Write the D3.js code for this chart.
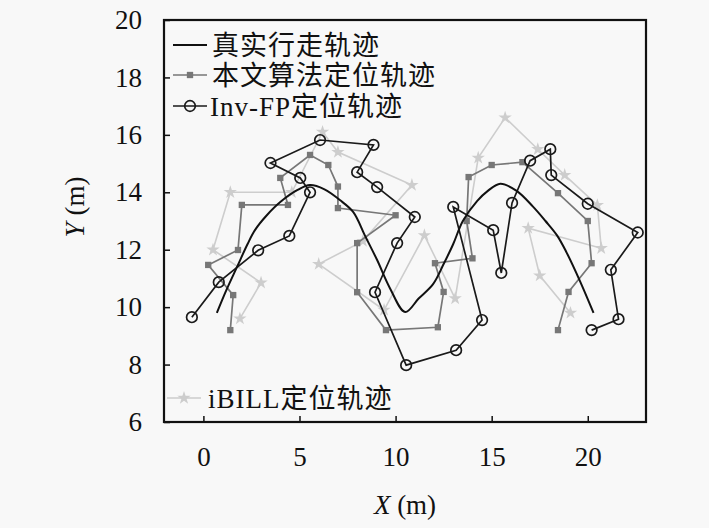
<!DOCTYPE html>
<html>
<head>
<meta charset="utf-8">
<script src="https://cdn.jsdelivr.net/npm/d3@7"></script>
<style>
  body { margin: 0; background: #f8f8f8; }
  svg { display: block; }
</style>
</head>
<body>
<svg width="709" height="528"></svg>
<script>
// true walking path
const truthX = [0.7, 1.2, 1.75, 2.3, 2.7, 3.3, 4.0, 4.9, 5.55, 6.3, 7.1, 7.8, 8.4, 9.04, 9.7, 10.5,
  11.2, 11.95, 12.5, 13.0, 13.5, 14.25, 14.8, 15.45, 16.3, 17.15, 17.8, 18.4, 18.9, 19.6, 20.3];
const truthY = [9.8, 10.6, 11.4, 12.2, 12.7, 13.2, 13.66, 14.08, 14.25, 14.1, 13.73, 13.31, 12.5, 11.64, 10.67, 9.83,
  10.3, 10.8, 11.5, 12.2, 13.0, 13.7, 14.05, 14.3, 14.05, 13.5, 13.0, 12.5, 11.9, 10.9, 9.8];

// proposed method (本文算法)
const oursX = [1.4, 1.55, 0.25, 1.8, 2.0, 4.4, 4.0, 5.55, 6.5, 7.0, 7.0, 10.0, 8.0, 8.0, 9.5, 12.2,
  12.5, 12.05, 14.0, 13.7, 13.8, 15.0, 16.6, 18.45, 20.0, 20.2, 19.0, 18.45];
const oursY = [9.2, 10.42, 11.47, 11.99, 13.56, 13.56, 14.5, 15.3, 14.95, 14.2, 13.45, 13.2, 12.23, 10.52, 9.2, 9.3,
  10.53, 11.53, 11.7, 13.0, 14.53, 14.95, 15.05, 13.97, 13.0, 11.53, 10.53, 9.2];

// Inv-FP
const invX = [-0.6, 0.8, 2.85, 4.47, 5.55, 5.04, 3.49, 6.07, 8.85, 8.0, 9.04, 11.0, 10.08, 8.93, 10.55, 13.15,
  14.5, 13.0, 15.08, 15.5, 16.06, 17.0, 18.05, 18.1, 20.0, 22.6, 21.2, 21.6, 20.2];
const invY = [9.65, 10.87, 11.98, 12.48, 14.0, 14.5, 15.02, 15.82, 15.65, 14.7, 14.18, 13.14, 12.23, 10.52, 7.98, 8.5,
  9.55, 13.49, 12.68, 11.19, 13.63, 15.1, 15.5, 14.6, 13.6, 12.6, 11.3, 9.58, 9.2];

// iBILL
const ibillX = [1.9, 3.0, 0.5, 1.4, 4.6, 6.2, 7.0, 10.85, 8.3, 6.0, 9.4, 11.5, 13.1, 14.3, 15.7, 17.4,
  18.8, 20.5, 20.7, 16.9, 17.5, 19.1];
const ibillY = [9.6, 10.85, 12.0, 14.0, 14.0, 16.1, 15.4, 14.25, 12.3, 11.5, 9.9, 12.5, 10.3, 15.2, 16.6, 15.5,
  14.6, 13.55, 12.05, 12.75, 11.1, 9.8];

const xTicks = [0, 5, 10, 15, 20];
const yTicks = [6, 8, 10, 12, 14, 16, 18, 20];

const legendLabels = ["真实行走轨迹", "本文算法定位轨迹", "Inv-FP定位轨迹", "iBILL定位轨迹"];

const svg = d3.select("svg");
svg.style("background", "#f8f8f8");

const margin = { top: 20, right: 63, bottom: 106, left: 164 };
const width = +svg.attr("width");
const height = +svg.attr("height");
const innerWidth = width - margin.left - margin.right;
const innerHeight = height - margin.top - margin.bottom;

const xScale = d3.scaleLinear().domain([-2.05, 23.03]).range([0, innerWidth]);
const yScale = d3.scaleLinear().domain([6, 20]).range([innerHeight, 0]);

const serif = "'Liberation Serif', 'DejaVu Serif', serif";
const cjk = "'Liberation Serif', 'Noto Sans CJK SC', serif";

const g = svg.append("g").attr("transform", `translate(${margin.left},${margin.top})`);

const zip = (xs, ys) => xs.map((x, i) => [x, ys[i]]);
const line = d3.line().x((d) => xScale(d[0])).y((d) => yScale(d[1]));

// iBILL
const ibill = zip(ibillX, ibillY);
g.append("path").datum(ibill).attr("d", line)
  .attr("fill", "none").attr("stroke", "#cdcdcd").attr("stroke-width", 1.6);
g.selectAll(".ib").data(ibill).enter().append("path")
  .attr("transform", (d) => `translate(${xScale(d[0])},${yScale(d[1])})`)
  .attr("d", d3.symbol(d3.symbolStar, 55))
  .attr("fill", "#cdcdcd");

// ours
const ours = zip(oursX, oursY);
g.append("path").datum(ours).attr("d", line)
  .attr("fill", "none").attr("stroke", "#777").attr("stroke-width", 1.7);
g.selectAll(".ou").data(ours).enter().append("path")
  .attr("transform", (d) => `translate(${xScale(d[0])},${yScale(d[1])})`)
  .attr("d", d3.symbol(d3.symbolSquare, 40))
  .attr("fill", "#777");

// Inv-FP
const inv = zip(invX, invY);
g.append("path").datum(inv).attr("d", line)
  .attr("fill", "none").attr("stroke", "#1a1a1a").attr("stroke-width", 1.7);
g.selectAll(".iv").data(inv).enter().append("circle")
  .attr("cx", (d) => xScale(d[0])).attr("cy", (d) => yScale(d[1])).attr("r", 5.3)
  .attr("fill", "none").attr("stroke", "#1a1a1a").attr("stroke-width", 1.7);

// true path
g.append("path").datum(zip(truthX, truthY))
  .attr("d", d3.line().x((d) => xScale(d[0])).y((d) => yScale(d[1])).curve(d3.curveCatmullRom.alpha(0.5)))
  .attr("fill", "none").attr("stroke", "#111").attr("stroke-width", 2);

// axes (ticks inward)
const xAxisG = g.append("g").attr("transform", `translate(0,${innerHeight})`)
  .call(d3.axisBottom(xScale).tickValues(xTicks).tickSizeInner(-6).tickSizeOuter(0).tickPadding(14));
const yAxisG = g.append("g")
  .call(d3.axisLeft(yScale).tickValues(yTicks).tickSizeInner(-6).tickSizeOuter(0).tickPadding(22));
[xAxisG, yAxisG].forEach((a) => {
  a.select(".domain").remove();
  a.selectAll(".tick line").attr("stroke", "#111").attr("stroke-width", 1.5);
  a.selectAll(".tick text").attr("font-family", serif).attr("font-size", 27).attr("fill", "#111");
});
xAxisG.selectAll(".tick text").attr("dy", "1.1em");

// box
g.append("rect").attr("width", innerWidth).attr("height", innerHeight)
  .attr("fill", "none").attr("stroke", "#111").attr("stroke-width", 2.2);

// axis labels
const xl = svg.append("text").attr("x", margin.left + innerWidth / 2).attr("y", 514)
  .attr("text-anchor", "middle").attr("font-family", serif).attr("font-size", 27).attr("fill", "#111");
xl.append("tspan").attr("font-style", "italic").text("X");
xl.append("tspan").text(" (m)");

const yl = svg.append("text").attr("transform", "translate(84,207) rotate(-90)")
  .attr("text-anchor", "middle").attr("font-family", serif).attr("font-size", 27).attr("fill", "#111");
yl.append("tspan").attr("font-style", "italic").text("Y");
yl.append("tspan").text(" (m)");

// legend
const legendRows = [
  { x0: 173, x1: 207, tx: 212, y: 45, stroke: "#111", mark: null },
  { x0: 173, x1: 207, tx: 212, y: 75, stroke: "#777", mark: "square" },
  { x0: 173, x1: 207, tx: 210, y: 106, stroke: "#1a1a1a", mark: "circle" },
  { x0: 167, x1: 201, tx: 208, y: 398, stroke: "#cdcdcd", mark: "star" },
];
legendRows.forEach((r, i) => {
  svg.append("line").attr("x1", r.x0).attr("x2", r.x1).attr("y1", r.y).attr("y2", r.y)
    .attr("stroke", r.stroke).attr("stroke-width", i === 0 ? 2 : 1.7);
  const cx = (r.x0 + r.x1) / 2;
  if (r.mark === "square") {
    svg.append("path").attr("transform", `translate(${cx},${r.y})`)
      .attr("d", d3.symbol(d3.symbolSquare, 40)).attr("fill", "#777");
  } else if (r.mark === "circle") {
    svg.append("circle").attr("cx", cx).attr("cy", r.y).attr("r", 5.3)
      .attr("fill", "none").attr("stroke", "#1a1a1a").attr("stroke-width", 1.7);
  } else if (r.mark === "star") {
    svg.append("path").attr("transform", `translate(${cx},${r.y})`)
      .attr("d", d3.symbol(d3.symbolStar, 55)).attr("fill", "#cdcdcd");
  }
  svg.append("text").attr("x", r.tx).attr("y", r.y).attr("dy", "0.36em")
    .attr("font-family", cjk).attr("font-size", 27).attr("letter-spacing", 1)
    .attr("fill", "#111").text(legendLabels[i]);
});
</script>
</body>
</html>
